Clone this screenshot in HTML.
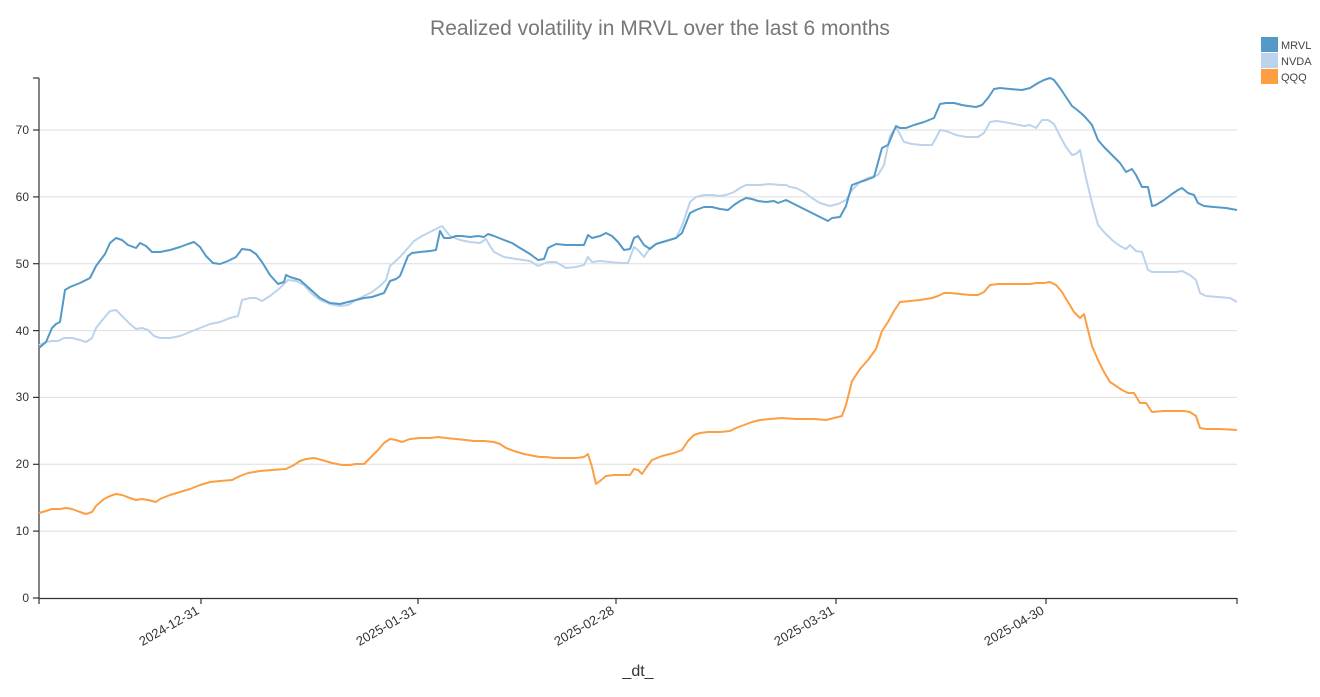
<!DOCTYPE html>
<html><head><meta charset="utf-8"><style>
html,body{margin:0;padding:0;background:#fff;}
svg{display:block;font-family:"Liberation Sans",Arial,sans-serif;}
</style></head><body>
<svg width="1320" height="697" viewBox="0 0 1320 697">
<text x="660" y="35" text-anchor="middle" font-size="21" fill="#777">Realized volatility in MRVL over the last 6 months</text>
<g stroke="#ddd" stroke-width="1">
<line x1="39" x2="1237" y1="531.1" y2="531.1"/><line x1="39" x2="1237" y1="464.3" y2="464.3"/>
<line x1="39" x2="1237" y1="397.4" y2="397.4"/><line x1="39" x2="1237" y1="330.6" y2="330.6"/>
<line x1="39" x2="1237" y1="263.7" y2="263.7"/><line x1="39" x2="1237" y1="196.9" y2="196.9"/>
<line x1="39" x2="1237" y1="130" y2="130"/>
</g>
<g stroke="#333" stroke-width="1.2" fill="none">
<line x1="39" y1="78" x2="39" y2="604"/><line x1="33" y1="78" x2="39" y2="78"/>
<line x1="39" y1="598.5" x2="1237" y2="598.5"/>
<line x1="1237" y1="598" x2="1237" y2="604"/>
<line x1="201" y1="598" x2="201" y2="604"/><line x1="418" y1="598" x2="418" y2="604"/>
<line x1="616" y1="598" x2="616" y2="604"/><line x1="836" y1="598" x2="836" y2="604"/>
<line x1="1046" y1="598" x2="1046" y2="604"/>
<line x1="33" y1="598" x2="39" y2="598"/><line x1="33" y1="531.1" x2="39" y2="531.1"/><line x1="33" y1="464.3" x2="39" y2="464.3"/><line x1="33" y1="397.4" x2="39" y2="397.4"/><line x1="33" y1="330.6" x2="39" y2="330.6"/><line x1="33" y1="263.7" x2="39" y2="263.7"/><line x1="33" y1="196.9" x2="39" y2="196.9"/><line x1="33" y1="130" x2="39" y2="130"/>
</g>
<g font-size="12" fill="#333" text-anchor="end">
<text x="29" y="602">0</text><text x="29" y="535">10</text><text x="29" y="468">20</text><text x="29" y="401">30</text><text x="29" y="335">40</text><text x="29" y="268">50</text><text x="29" y="201">60</text><text x="29" y="134">70</text>
</g>
<g font-size="13" fill="#333" text-anchor="end">
<text transform="translate(200,613) rotate(-30)">2024-12-31</text>
<text transform="translate(417,613) rotate(-30)">2025-01-31</text>
<text transform="translate(615,613) rotate(-30)">2025-02-28</text>
<text transform="translate(835,613) rotate(-30)">2025-03-31</text>
<text transform="translate(1045,613) rotate(-30)">2025-04-30</text>
</g>
<text x="638" y="676" text-anchor="middle" font-size="16" fill="#333">_dt_</text>
<g fill="none" stroke-width="2" stroke-linejoin="round">
<polyline stroke="#bcd3ec" points="39,345 46,342 52,341 58,341 64,338 72,338 80,340 86,342 92,338 96,328 104,318 110,311 116,310 122,316 130,324 136,329 142,328 148,330 154,336 160,338 170,338 180,336 190,332 200,328 210,324 220,322 230,318 238,316 242,300 250,298 256,298 262,301 270,296 280,288 288,280 296,281 304,285 312,294 320,300 330,304 340,306 348,305 356,300 364,296 372,292 380,286 386,280 390,266 400,257 408,248 414,241 422,236 430,232 438,228 442,226 450,236 460,240 470,242 480,243 486,239 490,246 494,252 504,257 516,259 530,261 538,266 548,262 556,262 566,268 576,267 584,265 588,257 592,262 600,261 610,262 620,263 628,263 634,247 638,250 644,257 650,248 656,244 666,241 676,238 682,226 690,202 696,197 704,195 712,195 720,196 726,195 734,192 740,188 746,185 752,185 760,185 770,184 780,185 786,185 790,187 796,188 804,192 812,198 820,203 830,206 838,204 846,200 852,190 860,182 868,178 878,175 884,165 890,136 896,127 904,142 912,144 922,145 932,145 936,138 940,130 946,131 956,135 966,137 978,137 984,133 990,122 996,121 1004,122 1014,124 1024,126 1030,125 1036,128 1042,120 1048,120 1054,124 1060,136 1066,147 1072,155 1076,154 1080,150 1086,178 1092,203 1098,225 1104,232 1112,240 1120,246 1126,249 1130,245 1136,251 1142,252 1148,270 1152,272 1164,272 1176,272 1182,271 1190,275 1196,280 1200,293 1206,296 1218,297 1230,298 1237,302"/>
<polyline stroke="#5499c7" points="39,348 46,342 52,328 56,324 60,322 65,290 70,287 80,283 90,278 96,266 105,254 110,243 116,238 122,240 128,245 136,248 140,243 146,246 152,252 160,252 170,250 180,247 188,244 194,242 200,247 206,256 213,263 220,264 228,261 236,257 242,249 250,250 256,254 262,262 270,275 278,284 284,282 286,275 290,277 300,280 310,289 320,298 330,303 340,304 348,302 356,300 364,298 372,297 378,295 384,293 390,281 396,279 400,276 408,256 412,253 420,252 430,251 436,250 440,231 444,238 450,238 456,236 462,236 470,237 478,236 484,237 488,234 494,236 504,240 512,243 520,248 530,254 538,260 544,259 548,248 556,244 566,245 576,245 584,245 588,235 592,238 600,236 606,233 612,236 618,242 624,250 630,249 634,238 638,236 644,245 650,249 656,244 666,241 676,238 682,233 690,213 696,210 704,207 712,207 720,209 728,210 734,205 740,201 746,198 752,199 758,201 766,202 774,201 778,203 786,200 794,204 802,208 810,212 820,217 828,221 832,218 840,217 846,206 852,185 860,182 866,180 874,177 882,148 888,145 896,126 900,128 906,128 914,125 924,122 934,118 940,104 946,103 954,103 962,105 968,106 976,107 982,105 988,98 994,89 1000,88 1010,89 1022,90 1030,88 1038,83 1044,80 1050,78 1054,80 1060,88 1066,97 1072,106 1076,109 1082,114 1086,118 1092,125 1098,140 1104,147 1112,155 1120,163 1126,172 1132,169 1136,175 1142,187 1148,187 1152,206 1156,205 1164,200 1172,194 1178,190 1182,188 1188,193 1194,195 1198,203 1204,206 1214,207 1226,208 1237,210"/>
<polyline stroke="#fd9e43" points="39,513 46,511 52,509 60,509 66,508 72,509 80,512 86,514 92,512 96,506 104,499 110,496 116,494 122,495 130,498 136,500 142,499 148,500 156,502 160,499 170,495 180,492 190,489 200,485 210,482 220,481 232,480 240,476 248,473 260,471 272,470 286,469 294,465 300,461 306,459 314,458 322,460 332,463 342,465 350,465 356,464 364,464 370,458 378,450 384,443 390,439 396,440 402,442 410,439 420,438 430,438 438,437 446,438 456,439 466,440 474,441 484,441 494,442 500,444 506,448 514,451 524,454 534,456 540,457 546,457 554,458 566,458 576,458 584,457 588,454 592,467 596,484 600,481 606,476 614,475 622,475 630,475 634,469 638,470 642,474 646,468 652,460 662,456 674,453 682,450 688,441 694,435 700,433 708,432 720,432 730,431 736,428 744,425 752,422 760,420 770,419 782,418 796,419 806,419 814,419 826,420 834,418 842,416 846,405 852,381 860,369 868,360 876,349 882,331 888,322 894,311 900,302 910,301 920,300 932,298 938,296 944,293 950,293 960,294 970,295 978,295 984,292 990,285 998,284 1010,284 1022,284 1030,284 1036,283 1044,283 1050,282 1056,285 1062,292 1068,302 1074,312 1080,318 1084,314 1088,330 1092,346 1098,360 1104,372 1110,382 1116,386 1122,390 1128,393 1134,393 1140,403 1146,403 1152,412 1164,411 1176,411 1184,411 1190,412 1196,416 1200,428 1206,429 1220,429 1237,430"/>
</g>
<rect x="1261" y="37" width="17" height="15" fill="#5499c7"/>
<rect x="1261" y="53" width="17" height="15" fill="#bcd3ec"/>
<rect x="1261" y="69" width="17" height="15" fill="#fd9e43"/>
<g font-size="11" fill="#444">
<text x="1281" y="49">MRVL</text><text x="1281" y="65">NVDA</text><text x="1281" y="81">QQQ</text>
</g>
</svg>
</body></html>
